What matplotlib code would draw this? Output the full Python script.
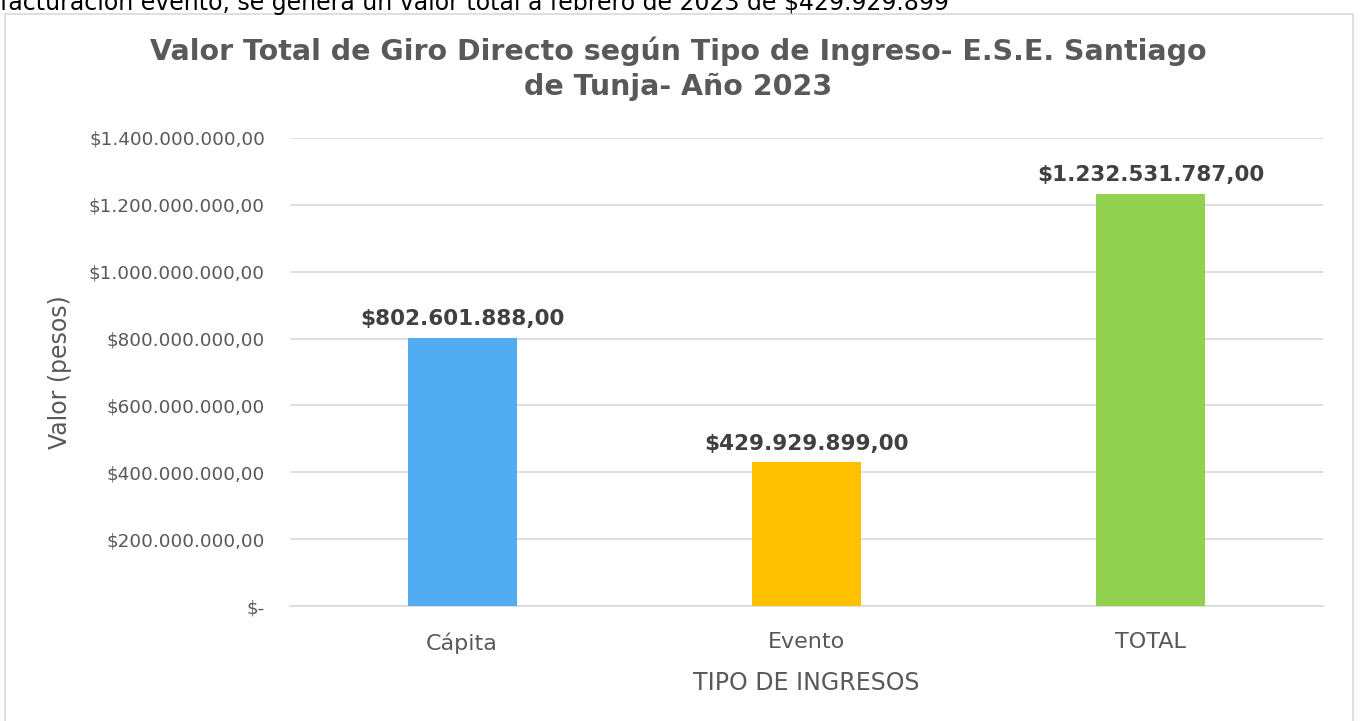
import matplotlib.pyplot as plt
from matplotlib.patches import Rectangle

categorias = ['Cápita', 'Evento', 'TOTAL']
valores = [802601888.00, 429929899.00, 1232531787.00]
colores = ['#52ACF2', '#FFC000', '#92D050']
etiquetas = ['$802.601.888,00', '$429.929.899,00', '$1.232.531.787,00']
ticks_y = [0, 200e6, 400e6, 600e6, 800e6, 1000e6, 1200e6, 1400e6]
ticks_y_txt = ['$-', '$200.000.000,00', '$400.000.000,00', '$600.000.000,00',
               '$800.000.000,00', '$1.000.000.000,00', '$1.200.000.000,00',
               '$1.400.000.000,00']

plt.rcParams['font.family'] = ['DejaVu Sans']

fig = plt.figure(figsize=(13.6, 7.21), dpi=100)

# recorte de la linea de texto del documento
fig.text(0.0, 1 - 10 / 721,
         'facturación evento, se genera un valor total a febrero de 2023 de $429.929.899',
         fontsize=17, color='black', ha='left', va='baseline')

# marco del grafico
fig.patches.append(Rectangle((5 / 1360, -0.01), 1348 / 1360, 1 - 14 / 721 + 0.01,
                             transform=fig.transFigure, fill=False,
                             edgecolor='#d9d9d9', linewidth=1.2))

ax = fig.add_axes([290 / 1360, 1 - 606 / 721, 1033 / 1360, 468 / 721])
x = range(len(categorias))
ax.bar(x, valores, width=0.316, color=colores, zorder=3)
ax.set_xlim(-0.5, 2.5)
ax.set_ylim(0, 1400e6)

for i, v in enumerate(valores):
    ax.text(i, v + 26e6, etiquetas[i], ha='center', va='bottom',
            fontsize=15.5, fontweight='bold', color='#404040')

ax.set_yticks(ticks_y)
ax.set_yticklabels(ticks_y_txt, fontsize=13.2, color='#595959')
ax.set_xticks(list(x))
ax.set_xticklabels(categorias, fontsize=16, color='#595959')
ax.tick_params(axis='both', length=0)
ax.tick_params(axis='y', pad=18)
ax.tick_params(axis='x', pad=19)
ax.grid(axis='y', color='#d9d9d9', linewidth=1.2, zorder=0)
for s in ['top', 'right', 'left']:
    ax.spines[s].set_visible(False)
ax.spines['bottom'].set_color('#d9d9d9')
ax.spines['bottom'].set_linewidth(1.2)

ax.set_ylabel('Valor (pesos)', fontsize=17, color='#595959', labelpad=12)
ax.set_xlabel('TIPO DE INGRESOS', fontsize=17, color='#595959', labelpad=12)

fig.text(0.4985, 1 - 69 / 721,
         'Valor Total de Giro Directo según Tipo de Ingreso- E.S.E. Santiago\nde Tunja- Año 2023',
         ha='center', va='center', fontsize=20.5, fontweight='bold',
         color='#595959', linespacing=1.3)

fig.savefig('out.png', dpi=100)
